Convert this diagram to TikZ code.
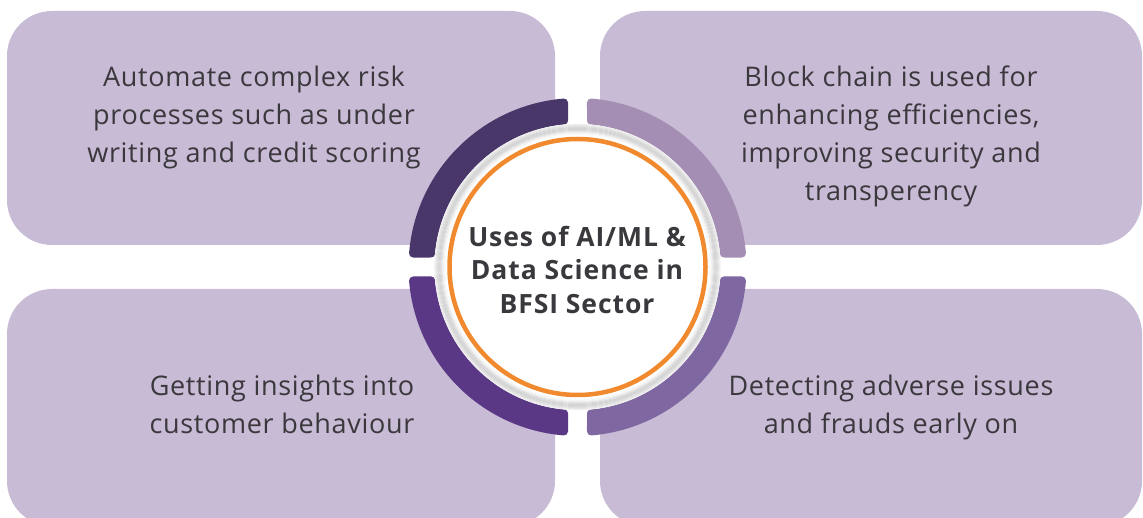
\documentclass[tikz,border=0pt]{standalone}
\usepackage{fontspec}
\setmainfont{Open Sans}[LetterSpace=2.5]
\newfontfamily\titlefont{Open Sans}[LetterSpace=3.5]
\definecolor{boxc}{HTML}{C8BBD5}
\definecolor{tlc}{HTML}{49376A}
\definecolor{trc}{HTML}{A58EB4}
\definecolor{blc}{HTML}{5A3886}
\definecolor{brc}{HTML}{7F67A1}
\definecolor{orc}{HTML}{F18A2E}
\definecolor{txtc}{HTML}{3A383D}
\tikzset{
  panel/.style={fill=boxc, rounded corners=45pt, draw=none, inner sep=0pt, outer sep=0pt},
  ringpart/.style={line width=8pt, line join=round},
  bodytext/.style={align=center, text=txtc, font=\fontsize{27}{38}\selectfont, inner sep=0pt},
  titletext/.style={align=center, text=txtc, font=\titlefont\bfseries\fontsize{26.5}{33.5}\selectfont, inner sep=0pt}
}
\begin{document}
\begin{tikzpicture}[x=1pt,y=1pt]
\useasboundingbox (0,0) rectangle (1143,517);
\clip (0,0) rectangle (1143,517);
% panels
\node[panel, minimum width=548pt, minimum height=234pt] (ptl) at (281,389) {};
\node[panel, minimum width=542pt, minimum height=234pt] (ptr) at (871,389) {};
\node[panel, minimum width=548pt, minimum height=237pt] (pbl) at (281,109.5) {};
\node[panel, minimum width=542pt, minimum height=237pt] (pbr) at (871,109.5) {};
% ring segments
\coordinate (c) at (577.5,250);
\begin{scope}[shift={(577.5,250)}]
\foreach \rot/\col in {0/tlc, 90/blc, 180/brc, 270/trc}{
  \fill[\col, draw=\col, ringpart, rotate=\rot]
    (94.69:165) arc[start angle=94.69, end angle=175.31, radius=165]
    -- (174.73:147) arc[start angle=174.73, end angle=95.27, radius=147] -- cycle;
}
\end{scope}
% white disc with rim
\fill[white] (c) circle[radius=143];
\foreach \r/\k in {142.5/6,141.5/9,140.5/12,139.5/15,138.5/17,137.5/17,136.5/15,135.5/11,134.5/7,133.5/4,132.5/2}{
  \draw[line width=1.1pt, black!\k] (c) circle[radius=\r];
}
\draw[orc, line width=4.5pt] (c) circle[radius=128];
% texts
\node[titletext] (title) at (577,247.5) {Uses of AI/ML \&\\Data Science in\\BFSI Sector};
\node[bodytext] (ttl) at (254,400) {Automate complex risk\\processes such as under\\writing and credit scoring};
\node[bodytext] (ttr) at (891,381) {Block chain is used for\\enhancing efficiencies,\\improving security and\\transperency};
\node[bodytext] (tbl) at (282,113) {Getting insights into\\customer behaviour};
\node[bodytext] (tbr) at (891,110) {Detecting adverse issues\\and frauds early on};
\end{tikzpicture}
\end{document}
